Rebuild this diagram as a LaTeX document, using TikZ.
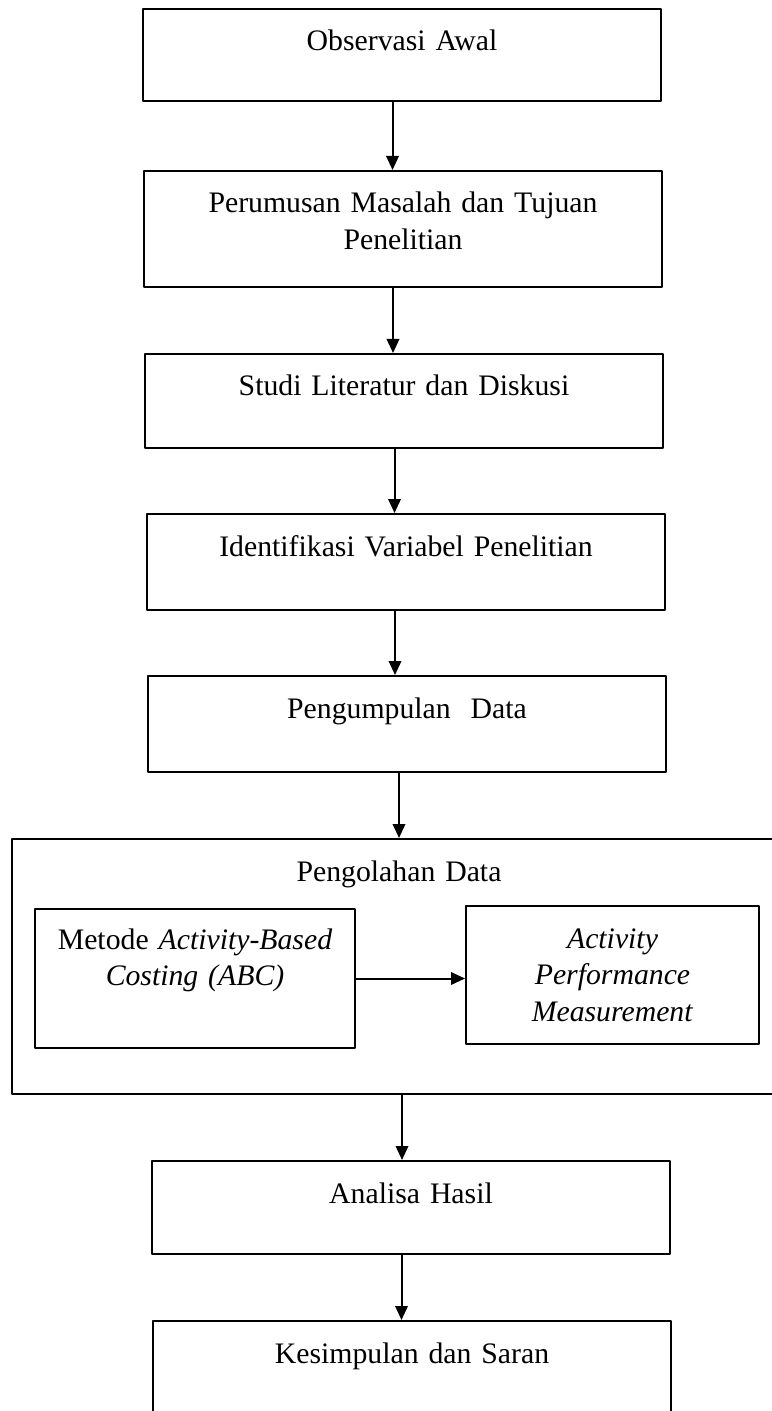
\documentclass[tikz,border=0pt]{standalone}
\usepackage{fontspec}
\setmainfont{Liberation Serif}
\usetikzlibrary{arrows.meta}

\begin{document}
\begin{tikzpicture}[x=0.4pt,y=-0.4pt,>={Triangle[length=5.6pt,width=5pt]},font=\fontsize{11.9}{14.6}\selectfont,line join=round,
	kotak/.style={draw,line width=0.8pt,anchor=north west,inner sep=0pt,align=center,text width=#1,text height=16.8pt},
	kotak/.default=207.2pt,
	panah/.style={->,line width=0.8pt}]
	\useasboundingbox (0,0) rectangle (772,1411);
	\clip (0,0) rectangle (772,1411);
	\node[kotak,text depth=20pt] (obs) at (142,8) {Observasi Awal};
	\node[kotak,text depth=29.6pt] (rumus) at (143,170) {Perumusan Masalah dan Tujuan\\Penelitian};
	\node[kotak,text depth=20.8pt] (studi) at (144,353) {Studi Literatur dan Diskusi};
	\node[kotak,text depth=21.6pt] (ident) at (146,513) {Identifikasi Variabel Penelitian};
	\node[kotak,text depth=21.6pt] (kumpul) at (147,675) {Pengumpulan\ \ Data};
	\node[kotak=309.6pt,text depth=85.2pt] (olah) at (11,838) {Pengolahan Data};
	\node[kotak=128pt,text height=16pt,text depth=39.6pt] (abc) at (34,908) {Metode \textit{Activity-Based}\\\textit{Costing (ABC)}};
	\node[kotak=117.2pt,text depth=38.4pt] (apm) at (465,905) {\textit{Activity}\\\textit{Performance}\\\textit{Measurement}};
	\node[kotak,text depth=20.4pt] (analisa) at (151,1160) {Analisa Hasil};
	\node[kotak,text depth=23.2pt] (simpul) at (152,1320) {Kesimpulan dan Saran};
	\draw[panah] ([xshift=-3.8pt]obs.south) -- ([xshift=-3.8pt]obs.south |- rumus.north);
	\draw[panah] ([xshift=-4pt]rumus.south) -- ([xshift=-4pt]rumus.south |- studi.north);
	\draw[panah] ([xshift=-3.8pt]studi.south) -- ([xshift=-3.8pt]studi.south |- ident.north);
	\draw[panah] ([xshift=-4.4pt]ident.south) -- ([xshift=-4.4pt]ident.south |- kumpul.north);
	\draw[panah] ([xshift=-3.2pt]kumpul.south) -- ([xshift=-3.2pt]kumpul.south |- olah.north);
	\draw[panah] (abc.east) -- (abc.east -| apm.west);
	\draw[panah] ([xshift=1.2pt]olah.south) -- ([xshift=1.2pt]olah.south |- analisa.north);
	\draw[panah] ([xshift=-3.8pt]analisa.south) -- ([xshift=-3.8pt]analisa.south |- simpul.north);
\end{tikzpicture}
\end{document}
